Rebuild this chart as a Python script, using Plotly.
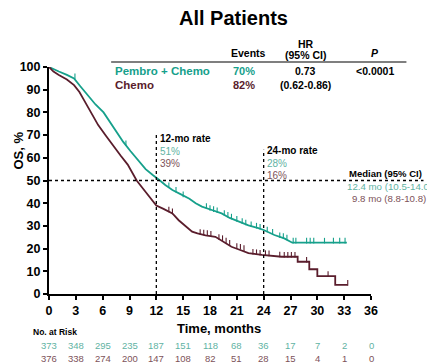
import plotly.graph_objects as go

# ---- data ----
pembro_t = [0, 0.5, 1.1, 2.0, 2.8, 3.5, 4.4, 5.2, 6.1, 7.2, 8.3, 9.1, 9.9, 10.8, 11.6, 12.0, 12.4,
            13.0, 13.8, 14.7, 15.7, 16.4, 17.1, 18.2, 19.3, 20.2, 21.2, 22.3, 23.4, 24.0, 25.2,
            26.3, 27.2, 33.3]
pembro_s = [100, 99, 98, 96.5, 95, 91.5, 87, 83.5, 80, 73.5, 67, 63, 59, 55, 52.4, 51, 50,
            48, 45.8, 44, 42, 40, 38.5, 37, 35.5, 33.5, 31.8, 30.2, 29, 28.2, 26,
            24.5, 22.6, 22.6]
chemo_t = [0, 0.5, 1.1, 2.0, 2.8, 3.4, 3.9, 4.7, 5.5, 6.3, 7.2, 8.0, 8.8, 9.3, 9.8, 10.5, 11.2,
           12.0, 12.8, 13.8, 14.5, 15.3, 16.0, 16.6, 17.5, 18.6, 19.5, 20.4, 21.3, 22.3, 23.8,
           26.0, 27.8, 27.8, 29.1, 29.1, 30.0, 30.0, 32.0, 32.0, 33.4]
chemo_s = [100, 98, 96.5, 94.5, 92, 89, 85.5, 80, 74.4, 70, 65, 61, 57, 53.5, 50, 46.5, 43,
           39, 37.5, 35.5, 32.5, 29.6, 27.5, 26.7, 25.8, 25.2, 23, 20.8, 19.5, 18, 17.2,
           16.4, 16.4, 14.2, 14.2, 10.9, 10.9, 7.9, 7.9, 4.0, 4.0]

pembro_cens_t = [2.9, 8.6, 13.4, 14.2, 15.0, 17.6, 18.0, 18.4, 18.8, 19.6, 20.0, 20.4, 21.0,
                 21.6, 22.0, 22.6, 23.2, 23.6, 24.4, 25.0, 25.8, 26.2, 26.6, 27.3, 27.6,
                 28.8, 29.2, 29.6, 30.8, 31.8, 32.5, 33.1]
pembro_cens_s = [95, 65.5, 47, 45, 43, 37.8, 37, 36.5, 36, 34.8, 34, 33.2, 32.2,
                 31.2, 30.6, 29.8, 29.2, 28.7, 27.5, 26.5, 25, 24.6, 24, 22.6, 22.6,
                 22.6, 22.6, 22.6, 22.6, 22.6, 22.6, 22.6]
chemo_cens_t = [13.4, 13.8, 16.9, 17.3, 17.7, 18.1, 19.0, 19.4, 19.8, 20.2, 21.0, 21.4, 21.8,
                22.8, 23.2, 23.6, 24.2, 24.6, 25.8, 26.3, 26.7, 27.1, 27.5, 28.8, 31.2, 33.4]
chemo_cens_s = [36.3, 35.5, 26.4, 26.2, 25.9, 25.6, 24.2, 23.7, 22.6, 21.7, 20.2, 19.9, 19.3,
                17.7, 17.5, 17.3, 17.1, 17.0, 16.5, 16.4, 16.4, 16.4, 16.4, 14.2, 7.9, 4.0]

risk_times = [0, 3, 6, 9, 12, 15, 18, 21, 24, 27, 30, 33, 36]
risk_pembro = [373, 348, 295, 235, 187, 151, 118, 68, 36, 17, 7, 2, 0]
risk_chemo = [376, 338, 274, 200, 147, 108, 82, 51, 28, 15, 4, 1, 0]

x_ticks = [0, 3, 6, 9, 12, 15, 18, 21, 24, 27, 30, 33, 36]
y_ticks = [0, 10, 20, 30, 40, 50, 60, 70, 80, 90, 100]

TEAL = "#16a08b"
MAROON = "#5a1d2c"
TEAL_T = "#5fb3a3"
MAROON_T = "#7d5259"
FONT = "Arial, Liberation Sans, sans-serif"

fig = go.Figure()
fig.add_trace(go.Scatter(x=pembro_t, y=pembro_s, mode="lines",
                         line=dict(color=TEAL, width=1.8), cliponaxis=False, showlegend=False))
fig.add_trace(go.Scatter(x=chemo_t, y=chemo_s, mode="lines",
                         line=dict(color=MAROON, width=1.8), cliponaxis=False, showlegend=False))
fig.add_trace(go.Scatter(x=pembro_cens_t, y=[s + 0.9 for s in pembro_cens_s], mode="markers",
                         marker=dict(symbol="line-ns", size=4, line=dict(color=TEAL, width=1.1)),
                         cliponaxis=False, showlegend=False))
fig.add_trace(go.Scatter(x=chemo_cens_t, y=[s + 0.9 for s in chemo_cens_s], mode="markers",
                         marker=dict(symbol="line-ns", size=4, line=dict(color=MAROON, width=1.1)),
                         cliponaxis=False, showlegend=False))

shapes = [
    dict(type="line", xref="x", yref="y", x0=12, x1=12, y0=0, y1=71,
         line=dict(color="black", width=1.3, dash="dot")),
    dict(type="line", xref="x", yref="y", x0=24, x1=24, y0=0, y1=63.5,
         line=dict(color="black", width=1.3, dash="dot")),
    dict(type="line", xref="paper", yref="y", x0=0, x1=1.163, y0=50, y1=50,
         line=dict(color="black", width=1.3, dash="dot")),
    dict(type="line", xref="paper", yref="paper", x0=0.193, x1=1.11, y0=1.022, y1=1.022,
         line=dict(color="#555555", width=1.5)),
]

ann = []
def A(text, x, y, xref="paper", yref="paper", size=11, color="black", bold=True,
      xanchor="center", yanchor="middle", italic=False, textangle=0):
    t = text
    if bold:
        t = "<b>" + t + "</b>"
    if italic:
        t = "<i>" + t + "</i>"
    ann.append(dict(text=t, x=x, y=y, xref=xref, yref=yref, showarrow=False,
                    font=dict(family=FONT, size=size, color=color),
                    xanchor=xanchor, yanchor=yanchor, textangle=textangle))

# title & table
A("All Patients", 0.572, 1.216, size=20)
A("Events", 0.620, 1.062, size=10.5)
A("HR", 0.798, 1.103, size=10.5)
A("(95% CI)", 0.798, 1.055, size=10.5)
A("P", 1.012, 1.062, size=10.5, italic=True)
A("Pembro + Chemo", 0.198, 0.983, size=11.5, color=TEAL, xanchor="left")
A("70%", 0.607, 0.983, size=11, color=TEAL)
A("0.73", 0.798, 0.983, size=10.5)
A("<0.0001", 1.012, 0.983, size=10.5)
A("Chemo", 0.198, 0.922, size=11.5, color=MAROON, xanchor="left")
A("82%", 0.607, 0.922, size=11, color=MAROON)
A("(0.62-0.86)", 0.798, 0.922, size=10.5)

# rates
A("12-mo rate", 12.2, 68.3, xref="x", yref="y", size=10, xanchor="left")
A("51%", 12.2, 62.6, xref="x", yref="y", size=10, bold=False, color=TEAL_T, xanchor="left")
A("39%", 12.2, 57.3, xref="x", yref="y", size=10, bold=False, color=MAROON_T, xanchor="left")
A("24-mo rate", 24.2, 63.0, xref="x", yref="y", size=10, xanchor="left")
A("28%", 24.2, 57.7, xref="x", yref="y", size=10, bold=False, color=TEAL_T, xanchor="left")
A("16%", 24.2, 52.4, xref="x", yref="y", size=10, bold=False, color=MAROON_T, xanchor="left")
A("Median (95% CI)", 0.926, 53.3, yref="y", size=9.5, xanchor="left")
A("12.4 mo (10.5-14.0)", 0.920, 47.4, yref="y", size=9.7, bold=False, color=TEAL_T, xanchor="left")
A("9.8 mo (8.8-10.8)", 0.935, 42.2, yref="y", size=9.7, bold=False, color=MAROON_T, xanchor="left")

# axis titles
A("OS, %", -0.095, 0.634, size=13, textangle=-90)
A("Time, months", 0.528, -0.150, size=13)
A("No. at Risk", -0.056, -0.168, size=8.5, xanchor="left")
for t, a, b in zip(risk_times, risk_pembro, risk_chemo):
    A(str(a), t, -0.225, xref="x", size=9.5, bold=False, color=TEAL_T)
    A(str(b), t, -0.283, xref="x", size=9.5, bold=False, color=MAROON_T)

# page has an 8px body margin, so the figure is 8px smaller and shifted accordingly
fig.update_layout(
    width=427, height=356,
    margin=dict(l=37, r=64, t=59, b=70),
    paper_bgcolor="white", plot_bgcolor="white",
    font=dict(family=FONT, color="black"),
    shapes=shapes, annotations=ann,
    xaxis=dict(range=[0, 36], tickvals=x_ticks, showgrid=False, zeroline=False,
               showline=True, linecolor="black", linewidth=2, ticks="outside",
               ticklen=4, tickwidth=2, tickcolor="black",
               tickfont=dict(size=12.5, weight="bold", family=FONT)),
    yaxis=dict(range=[0, 100], tickvals=y_ticks, showgrid=False, zeroline=False,
               showline=True, linecolor="black", linewidth=2, ticks="outside",
               ticklen=4, tickwidth=2, tickcolor="black",
               tickfont=dict(size=12.5, weight="bold", family=FONT)),
)

fig.write_html("out.html")
